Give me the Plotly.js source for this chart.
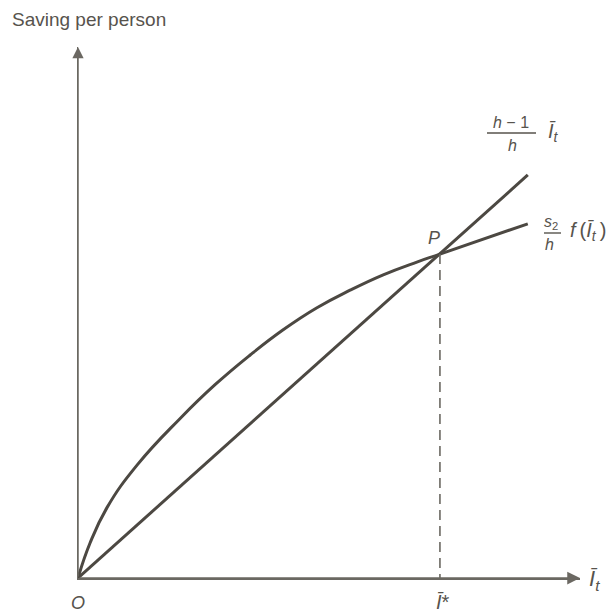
<!DOCTYPE html>
<html>
<head>
<meta charset="utf-8">
<script src="https://cdn.plot.ly/plotly-3.0.1.min.js"></script>
<style>
  html, body { margin: 0; padding: 0; background: #ffffff; }
  #chart { width: 610px; height: 613px; }
</style>
</head>
<body>
<div id="chart"></div>
<script>
// Income per person (x) and saving per person (y) along the concave saving curve s2/h f(I)
const incomeGrid  = [0, 2.4, 5.8, 11.8, 20.3, 27.3, 34.3, 40.8, 47.6, 54.2, 60.8, 67.5, 72.1, 89.6];
const savingCurve = [0, 6.6, 13.3, 21.3, 30.0, 36.4, 42.0, 46.7, 50.9, 54.2, 57.1, 59.5, 61.0, 66.7];

// Straight line (h-1)/h * I
const lineIncome = [0, 89.6];
const lineSaving = [0, 75.9];

// Steady state P = (I*, saving at I*)
const steadyIncome = [72.1, 72.1];
const steadySaving = [61.0, 0];

const W = 610, H = 613;
const M = { l: 78, r: 30, t: 47, b: 35 };
const px = x => (x - M.l) / (W - M.l - M.r);
const py = y => (H - M.b - y) / (H - M.t - M.b);

const ink = '#4c4842';
const axisInk = '#6b6862';
const textInk = '#57534d';
const FONT = 'Liberation Sans, Arial, sans-serif';
const THIN = '\u2009';

const traces = [
  {
    x: incomeGrid, y: savingCurve, mode: 'lines',
    line: { color: ink, width: 3, shape: 'spline', smoothing: 1.3 },
    hoverinfo: 'skip', cliponaxis: false
  },
  {
    x: lineIncome, y: lineSaving, mode: 'lines',
    line: { color: ink, width: 3 },
    hoverinfo: 'skip', cliponaxis: false
  },
  {
    x: steadyIncome, y: steadySaving, mode: 'lines',
    line: { color: axisInk, width: 1.6, dash: '10px,6px' },
    hoverinfo: 'skip', cliponaxis: false
  }
];

function label(text, x, y, size, anchor) {
  return {
    xref: 'paper', yref: 'paper', x: px(x), y: py(y),
    xanchor: anchor || 'center', yanchor: 'middle',
    text: text, showarrow: false,
    font: { family: FONT, size: size, color: textInk }
  };
}

const annotations = [
  // axis arrowheads
  {
    xref: 'x', yref: 'y', x: 0, y: 100, axref: 'x', ayref: 'y', ax: 0, ay: 0,
    text: '', showarrow: true, arrowhead: 2, arrowsize: 1.5, arrowwidth: 1.5, arrowcolor: axisInk
  },
  {
    xref: 'x', yref: 'y', x: 100, y: 0, axref: 'x', ayref: 'y', ax: 0, ay: 0,
    text: '', showarrow: true, arrowhead: 2, arrowsize: 1.7, arrowwidth: 1.5, arrowcolor: axisInk
  },
  label('Saving per person', 10, 20, 19, 'left'),
  label('<i>O</i>', 78, 603, 18),
  label('<i>Ī</i>*', 443, 602, 20),
  label('<i>Ī<sub>t</sub></i>', 587, 580, 22, 'left'),
  label('<i>P</i>', 434, 238, 18),
  // (h − 1)/h · Ī_t
  label('<i>h</i> − 1', 511, 122, 16),
  label('<i>h</i>', 512, 145, 16),
  label('<i>Ī<sub>t</sub></i>', 546, 132, 20, 'left'),
  // s2/h · f(Ī_t)
  label('<i>s</i><sub>2</sub>', 551, 222, 16),
  label('<i>h</i>', 549, 244, 16),
  label('<i>f</i>' + THIN + '(<i>Ī<sub>t</sub></i>' + THIN + ')', 568, 232, 20, 'left')
];

const shapes = [
  { type: 'line', xref: 'paper', yref: 'paper', x0: px(487), x1: px(536), y0: py(133), y1: py(133),
    line: { color: textInk, width: 1.4 } },
  { type: 'line', xref: 'paper', yref: 'paper', x0: px(544), x1: px(561), y0: py(233), y1: py(233),
    line: { color: textInk, width: 1.4 } }
];

const axisCommon = {
  range: [0, 100], showgrid: false, zeroline: false, showticklabels: false, ticks: '',
  showline: true, linecolor: axisInk, linewidth: 1.5, fixedrange: true
};

const layout = {
  width: W, height: H,
  margin: { l: M.l, r: M.r, t: M.t, b: M.b },
  paper_bgcolor: '#ffffff', plot_bgcolor: '#ffffff',
  showlegend: false,
  xaxis: Object.assign({}, axisCommon),
  yaxis: Object.assign({}, axisCommon),
  annotations: annotations,
  shapes: shapes,
  font: { family: FONT, color: textInk }
};

Plotly.newPlot('chart', traces, layout, { displayModeBar: false, staticPlot: true });
</script>
</body>
</html>
